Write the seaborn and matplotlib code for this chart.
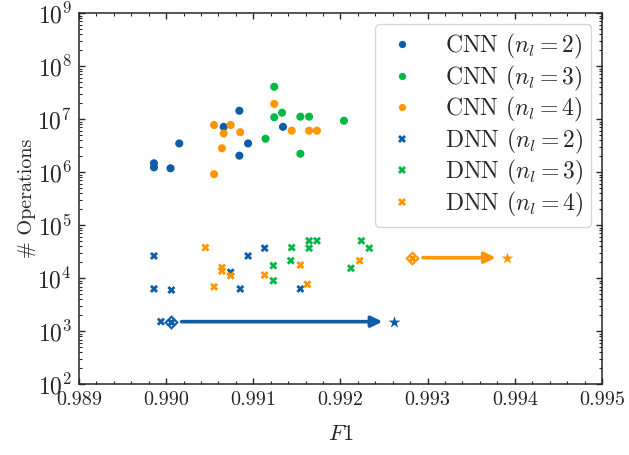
import numpy as np
import pandas as pd
import matplotlib
matplotlib.use("Agg")
import matplotlib.pyplot as plt
import seaborn as sns
from matplotlib.path import Path
from matplotlib.ticker import MultipleLocator, FormatStrFormatter, LogLocator

# CNN results (F1, number of operations)
cnn2_f1 = [0.98986, 0.98986, 0.99005, 0.99015, 0.99084, 0.99066, 0.99094, 0.99084, 0.99134]
cnn2_ops = [1.48e6, 1.24e6, 1.19e6, 3.5e6, 1.45e7, 7.2e6, 3.5e6, 2.06e6, 7.2e6]
cnn3_f1 = [0.99124, 0.99124, 0.99133, 0.99154, 0.99164, 0.99204, 0.99114, 0.99154]
cnn3_ops = [4.1e7, 1.09e7, 1.33e7, 1.12e7, 1.12e7, 9.4e6, 4.3e6, 2.24e6]
cnn4_f1 = [0.99055, 0.99074, 0.99066, 0.99085, 0.99064, 0.99055, 0.99124, 0.99144, 0.99164, 0.99173]
cnn4_ops = [7.8e6, 7.8e6, 5.4e6, 5.7e6, 2.84e6, 9.2e5, 1.95e7, 6.1e6, 6.1e6, 6.1e6]

# DNN results
dnn2_f1 = [0.98986, 0.98986, 0.99006, 0.99074, 0.99094, 0.99085, 0.99113, 0.99154, 0.98994]
dnn2_ops = [2.64e4, 6.3e3, 6.0e3, 1.3e4, 2.64e4, 6.3e3, 3.7e4, 6.3e3, 1.52e3]
dnn3_f1 = [0.99144, 0.99164, 0.99164, 0.99173, 0.99123, 0.99123, 0.99143, 0.99224, 0.99233, 0.99212]
dnn3_ops = [3.8e4, 5.1e4, 3.7e4, 5.1e4, 1.73e4, 9.0e3, 2.15e4, 5.1e4, 3.7e4, 1.55e4]
dnn4_f1 = [0.99045, 0.99064, 0.99064, 0.99074, 0.99055, 0.99113, 0.99154, 0.99162, 0.99222]
dnn4_ops = [3.8e4, 1.6e4, 1.37e4, 1.12e4, 6.9e3, 1.15e4, 1.78e4, 7.7e3, 2.15e4]

# selected models before / after (diamond -> star)
sel_colors = ["#0C5DA5", "#FF9500"]
before_f1 = [0.99005, 0.99282]
before_ops = [1.52e3, 2.45e4]
after_f1 = [0.99261, 0.99391]
after_ops = [1.52e3, 2.45e4]

labels = [r"CNN ($n_l=2$)", r"CNN ($n_l=3$)", r"CNN ($n_l=4$)",
          r"DNN ($n_l=2$)", r"DNN ($n_l=3$)", r"DNN ($n_l=4$)"]
colors = ["#0C5DA5", "#00B945", "#FF9500"] * 2
marks = ["o"] * 3 + ["X"] * 3

series = [(cnn2_f1, cnn2_ops), (cnn3_f1, cnn3_ops), (cnn4_f1, cnn4_ops),
          (dnn2_f1, dnn2_ops), (dnn3_f1, dnn3_ops), (dnn4_f1, dnn4_ops)]
rows = []
for lab, (xs, ys) in zip(labels, series):
    for xv, yv in zip(xs, ys):
        rows.append({"f1": xv, "ops": yv, "model": lab})
df = pd.DataFrame(rows)

sns.set_style("ticks")
plt.rcParams.update({
    "font.family": "serif",
    "font.serif": ["cmr10"],
    "mathtext.fontset": "cm",
    "axes.formatter.use_mathtext": True,
    "font.size": 14.5,
    "ytick.labelsize": 17,
    "axes.linewidth": 1.1,
    "xtick.direction": "in",
    "ytick.direction": "in",
    "xtick.top": True,
    "ytick.right": True,
    "xtick.major.size": 4.5,
    "ytick.major.size": 4.5,
    "xtick.minor.size": 2.3,
    "ytick.minor.size": 2.3,
    "xtick.major.width": 1.0,
    "ytick.major.width": 1.0,
    "xtick.minor.width": 0.8,
    "ytick.minor.width": 0.8,
    "xtick.minor.visible": True,
    "ytick.minor.visible": True,
    "xtick.major.pad": 5,
    "ytick.major.pad": 5,
})

# four white dots to put on the diamond markers
dot_verts, dot_codes = [], []
ang = np.linspace(0, 2 * np.pi, 13)
for cx, cy in [(0, 0.45), (-0.45, 0), (0, -0.45), (0.45, 0)]:
    dot_verts += [(cx + 0.12 * np.cos(a), cy + 0.12 * np.sin(a)) for a in ang]
    dot_codes += [Path.MOVETO] + [Path.LINETO] * 11 + [Path.CLOSEPOLY]
four_dots = Path(dot_verts, dot_codes)
dots_extent = 0.45 + 0.12

fig = plt.figure(figsize=(6.29, 4.55), dpi=100)
ax = fig.add_axes([0.1256, 0.1554, 0.8314, 0.8154])

sns.scatterplot(data=df, x="f1", y="ops", hue="model", style="model",
                hue_order=labels, style_order=labels,
                palette=dict(zip(labels, colors)), markers=dict(zip(labels, marks)),
                s=34, linewidth=0, ax=ax)

diamond_s = 110
for c, x0, y0, x1, y1 in zip(sel_colors, before_f1, before_ops, after_f1, after_ops):
    ax.annotate("", xy=(x1, y1), xytext=(x0, y0),
                arrowprops=dict(arrowstyle="-|>,head_length=0.45,head_width=0.22",
                                color=c, lw=2.6, shrinkA=8, shrinkB=8))
    ax.scatter([x0], [y0], marker="D", s=diamond_s * 0.5, color=c, linewidth=0, zorder=4)
    ax.scatter([x0], [y0], marker=four_dots, s=diamond_s * dots_extent ** 2,
               color="white", linewidth=0, zorder=5)
    ax.scatter([x1], [y1], marker="*", s=80, color=c, linewidth=0, zorder=4)

ax.set_yscale("log")
ax.set_xlim(0.989, 0.995)
ax.set_ylim(1e2, 1e9)
ax.xaxis.set_major_locator(MultipleLocator(0.001))
ax.xaxis.set_minor_locator(MultipleLocator(0.0002))
ax.xaxis.set_major_formatter(FormatStrFormatter("%.3f"))
ax.yaxis.set_major_locator(LogLocator(base=10, numticks=12))
ax.yaxis.set_minor_locator(LogLocator(base=10, subs=np.arange(2, 10), numticks=12))
ax.set_xlabel(r"$F1$", fontsize=16, labelpad=11)
ax.set_ylabel("# Operations", labelpad=1)

ax.legend(loc="upper right", fontsize=17, handlelength=1.55, handletextpad=1.05,
          labelspacing=0.1, borderpad=0.35, borderaxespad=0.45, fancybox=True,
          framealpha=0.8, edgecolor="0.8", markerscale=0.9)

fig.savefig("out.png", dpi=100)
